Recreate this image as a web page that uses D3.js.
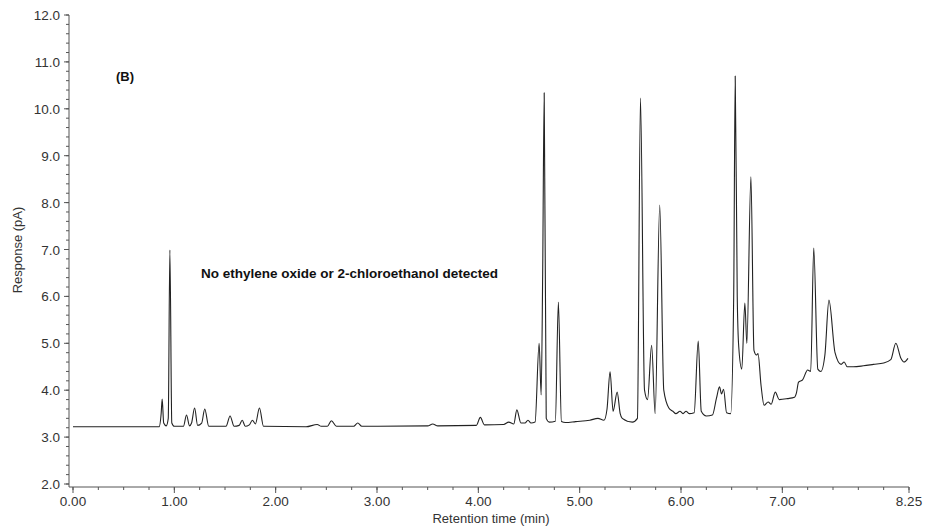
<!DOCTYPE html>
<html lang="en">
<head>
<meta charset="UTF-8">
<script src="https://d3js.org/d3.v7.min.js"></script>
<style>
  body { margin: 0; background: #fff; }
  text { font-family: "Liberation Sans", Arial, sans-serif; fill: #333; }
</style>
</head>
<body>
<svg id="graph" width="941" height="532"></svg>
<script>
// retention time (min) and response (pA)
const times = [
  0.00, 0.50, 0.85, 0.87, 0.88, 0.895, 0.92, 0.94, 0.956, 0.975, 1.00, 1.09, 1.12, 1.15, 1.17, 1.20, 1.23, 1.27, 1.30, 1.34,
  1.51, 1.55, 1.59, 1.64, 1.67, 1.70, 1.74, 1.77, 1.80, 1.84, 1.88, 2.30, 2.41, 2.45, 2.51, 2.55, 2.60, 2.77, 2.81, 2.85,
  3.50, 3.55, 3.60, 3.98, 4.02, 4.06, 4.25, 4.30, 4.35, 4.38, 4.42, 4.46, 4.49, 4.52, 4.56, 4.60, 4.62, 4.635, 4.65, 4.67,
  4.70, 4.76, 4.79, 4.82, 4.86, 4.96, 5.10, 5.18, 5.24, 5.27, 5.30, 5.33, 5.37, 5.40, 5.42, 5.52, 5.57, 5.60, 5.64, 5.67,
  5.71, 5.745, 5.79, 5.83, 5.88, 5.92, 5.95, 5.99, 6.02, 6.05, 6.08, 6.13, 6.17, 6.20, 6.25, 6.31, 6.35, 6.38, 6.40, 6.42, 6.45,
  6.49, 6.52, 6.535, 6.555, 6.57, 6.60, 6.63, 6.65, 6.69, 6.72, 6.745, 6.76, 6.79, 6.82, 6.86, 6.89, 6.93, 6.97, 7.05, 7.12,
  7.14, 7.16, 7.20, 7.25, 7.28, 7.31, 7.35, 7.38, 7.42, 7.46, 7.52, 7.58, 7.61, 7.64, 7.70, 7.80, 7.90, 8.00, 8.07, 8.12,
  8.17, 8.20, 8.24
];
const response = [
  3.22, 3.22, 3.22, 3.50, 3.81, 3.30, 3.24, 3.40, 6.99, 3.30, 3.23, 3.23, 3.47, 3.24, 3.30, 3.62, 3.25, 3.30, 3.60, 3.23,
  3.23, 3.45, 3.23, 3.25, 3.36, 3.23, 3.26, 3.36, 3.28, 3.62, 3.23, 3.22, 3.27, 3.23, 3.23, 3.35, 3.23, 3.23, 3.30, 3.23,
  3.24, 3.28, 3.24, 3.25, 3.42, 3.26, 3.27, 3.32, 3.28, 3.58, 3.30, 3.30, 3.36, 3.30, 3.32, 5.00, 3.90, 6.50, 10.34, 3.40,
  3.32, 3.34, 5.88, 3.33, 3.31, 3.33, 3.36, 3.40, 3.36, 3.60, 4.39, 3.55, 3.96, 3.50, 3.40, 3.32, 3.40, 10.23, 4.00, 3.80,
  4.96, 3.50, 7.95, 4.00, 3.62, 3.55, 3.50, 3.55, 3.50, 3.55, 3.50, 3.52, 5.05, 3.55, 3.45, 3.47, 3.83, 4.07, 3.92, 4.02, 3.52,
  3.50, 6.00, 10.70, 6.00, 4.92, 4.45, 5.86, 5.00, 8.55, 4.85, 4.75, 4.78, 4.10, 3.68, 3.75, 3.70, 3.96, 3.80, 3.82, 3.85,
  3.95, 4.17, 4.22, 4.43, 4.40, 7.03, 4.45, 4.40, 4.75, 5.92, 4.80, 4.55, 4.60, 4.50, 4.50, 4.52, 4.55, 4.58, 4.65, 5.00,
  4.68, 4.60, 4.68
];
const xTicks = [0, 1, 2, 3, 4, 5, 6, 7, 8.25];
const yTicks = [2, 3, 4, 5, 6, 7, 8, 9, 10, 11, 12];

function plot() {
  const svg = d3.select("svg");
  const x = d3.scaleLinear().domain([0, 8.25]).range([73, 909]);
  const y = d3.scaleLinear().domain([2, 12]).range([484, 15]);
  const axisColor = "#555";

  // y axis
  const yAxis = svg.append("g").attr("transform", "translate(69,0)");
  yAxis.append("line").attr("y1", 15).attr("y2", 487).attr("stroke", axisColor);
  yAxis.selectAll(".minor").data(d3.range(2, 12.001, 0.2)).enter().append("line")
    .attr("x1", -3).attr("x2", 0).attr("y1", d => y(d)).attr("y2", d => y(d)).attr("stroke", axisColor);
  yAxis.selectAll(".major").data(yTicks).enter().append("line")
    .attr("x1", -5).attr("x2", 0).attr("y1", d => y(d)).attr("y2", d => y(d)).attr("stroke", axisColor);
  yAxis.selectAll("text").data(yTicks).enter().append("text")
    .attr("x", -9).attr("y", d => y(d) + 5).attr("text-anchor", "end").attr("font-size", 13.5)
    .text(d => d.toFixed(1));

  // x axis
  const xAxis = svg.append("g").attr("transform", "translate(0,487)");
  xAxis.append("line").attr("x1", 69).attr("x2", x(8.25)).attr("stroke", axisColor);
  xAxis.selectAll(".minor").data(d3.range(0, 8.251, 0.25)).enter().append("line")
    .attr("x1", d => x(d)).attr("x2", d => x(d)).attr("y1", 0).attr("y2", 3).attr("stroke", axisColor);
  xAxis.selectAll(".major").data(xTicks).enter().append("line")
    .attr("x1", d => x(d)).attr("x2", d => x(d)).attr("y1", 0).attr("y2", 6).attr("stroke", axisColor);
  xAxis.selectAll("text").data(xTicks).enter().append("text")
    .attr("x", d => x(d)).attr("y", 19).attr("text-anchor", "middle").attr("font-size", 13.5)
    .text(d => d.toFixed(2));

  svg.append("text").attr("x", 491).attr("y", 523).attr("text-anchor", "middle")
    .attr("font-size", 13).text("Retention time (min)");
  svg.append("text").attr("transform", "translate(22,250) rotate(-90)")
    .attr("text-anchor", "middle").attr("font-size", 13).text("Response (pA)");

  svg.append("text").attr("x", 116).attr("y", 81).attr("font-size", 13)
    .attr("font-weight", "bold").style("fill", "#111").text("(B)");
  svg.append("text").attr("x", 201).attr("y", 278).attr("font-size", 13.5)
    .attr("font-weight", "bold").style("fill", "#111").text("No ethylene oxide or 2-chloroethanol detected");

  const pts = times.map((t, i) => [t, response[i]]);
  const line = d3.line().x(d => x(d[0])).y(d => y(d[1])).curve(d3.curveMonotoneX);
  svg.append("path").attr("d", line(pts)).attr("fill", "none")
    .attr("stroke", "#222").attr("stroke-width", 1.1).attr("stroke-linejoin", "round");
}
plot();
</script>
</body>
</html>
